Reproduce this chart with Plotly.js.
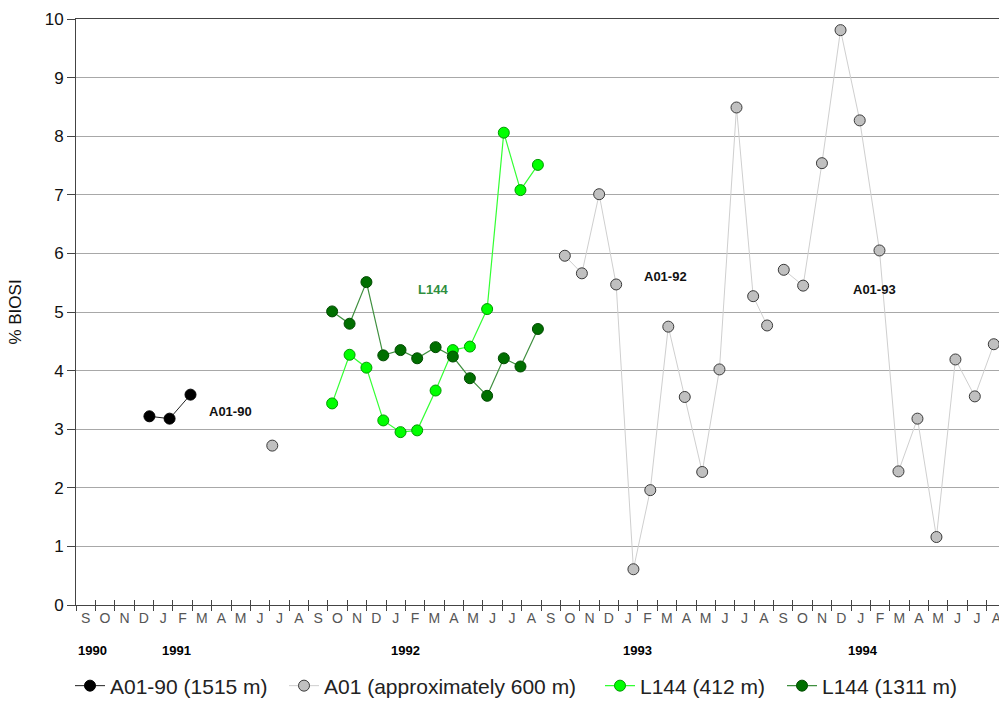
<!DOCTYPE html>
<html>
<head>
<meta charset="utf-8">
<script src="https://cdn.plot.ly/plotly-3.0.1.min.js"></script>
<style>
html,body{margin:0;padding:0;overflow:hidden;background:#fff;width:999px;height:702px}
#chart{width:1010px;height:702px}
</style>
</head>
<body>
<div id="chart"></div>
<script>
// Month index: 0 = September 1990 ... 47 = August 1994
const monthLetters = ['S','O','N','D','J','F','M','A','M','J','J','A',
                      'S','O','N','D','J','F','M','A','M','J','J','A',
                      'S','O','N','D','J','F','M','A','M','J','J','A',
                      'S','O','N','D','J','F','M','A','M','J','J','A'];
const yearLabels = ['1990','1991','1992','1993','1994'];
const seriesLabels = ['A01-90','L144','A01-92','A01-93'];
const legendNames = ['A01-90 (1515 m)','A01 (approximately 600 m)','L144 (412 m)','L144 (1311 m)'];

// A01-90 (1515 m)
const a0190X = [3.29, 4.33, 5.41];
const a0190Y = [3.22, 3.18, 3.59];

// A01 (approximately 600 m) - three separate deployments
const a01SingleX = [9.63];
const a01SingleY = [2.72];
const a0192X = [24.73, 25.61, 26.50, 27.38, 28.27, 29.14, 30.07, 30.92, 31.82, 32.71, 33.59, 34.45, 35.17];
const a0192Y = [5.96, 5.66, 7.01, 5.47, 0.61, 1.96, 4.75, 3.55, 2.27, 4.02, 8.49, 5.27, 4.77];
const a0193X = [36.03, 37.03, 38.00, 38.96, 39.95, 40.97, 41.95, 42.93, 43.91, 44.89, 45.89, 46.87];
const a0193Y = [5.72, 5.45, 7.54, 9.81, 8.27, 6.05, 2.28, 3.18, 1.16, 4.19, 3.56, 4.45];

// L144
const l144X = [12.72, 13.62, 14.49, 15.36, 16.25, 17.11, 18.06, 18.95, 19.83, 20.72, 21.58, 22.44, 23.34];
const l144_412Y = [3.44, 4.27, 4.05, 3.15, 2.95, 2.98, 3.66, 4.35, 4.41, 5.05, 8.06, 7.08, 7.51];
const l144_1311Y = [5.01, 4.80, 5.51, 4.26, 4.35, 4.21, 4.40, 4.24, 3.87, 3.57, 4.21, 4.07, 4.71];

// ---- build traces ----
const FONT = 'Arial, "Liberation Sans", sans-serif';
const greyX = a01SingleX.concat([null], a0192X, [null], a0193X);
const greyY = a01SingleY.concat([null], a0192Y, [null], a0193Y);

const traces = [
  {x:a0190X, y:a0190Y, name:legendNames[0], mode:'lines+markers', legend:'legend',
   line:{color:'#222', width:1}, marker:{size:11, color:'#000', line:{color:'#000', width:1}}},
  {x:greyX, y:greyY, name:legendNames[1], mode:'lines+markers', connectgaps:false, legend:'legend2',
   line:{color:'#cfcfcf', width:1}, marker:{size:11, color:'#c0c0c0', line:{color:'#3a3a3a', width:1}}},
  {x:l144X, y:l144_412Y, name:legendNames[2], mode:'lines+markers', legend:'legend3',
   line:{color:'#33ff33', width:1.2}, marker:{size:11, color:'#00ff00', line:{color:'#009a00', width:1}}},
  {x:l144X, y:l144_1311Y, name:legendNames[3], mode:'lines+markers', legend:'legend4',
   line:{color:'#3f8f3f', width:1.2}, marker:{size:11, color:'#006f00', line:{color:'#004a00', width:1}}},
  {x:[], y:[], xaxis:'x2', yaxis:'y', showlegend:false, hoverinfo:'skip', mode:'markers'}
];

const centers = monthLetters.map((_, i) => i);
const boundaries = monthLetters.map((_, i) => i - 0.5).concat([monthLetters.length - 0.5]);

const yearPos = [0.35, 4.7, 16.5, 28.5, 40.1];
const labelPos = [[7.48, 3.31, '#111'], [17.9, 5.39, '#2f8f3f'], [29.9, 5.6, '#111'], [40.7, 5.39, '#111']];

const annotations = [];
yearLabels.forEach((t, i) => annotations.push({
  text:'<b>' + t + '</b>', x:yearPos[i], xref:'x', y:-0.077, yref:'paper',
  showarrow:false, xanchor:'center', yanchor:'middle', font:{family:FONT, size:13, color:'#000'}
}));
seriesLabels.forEach((t, i) => annotations.push({
  text:'<b>' + t + '</b>', x:labelPos[i][0], y:labelPos[i][1], xref:'x', yref:'y',
  showarrow:false, xanchor:'center', yanchor:'middle', font:{family:FONT, size:13, color:labelPos[i][2]}
}));

function leg(xpx){
  return {orientation:'h', xref:'container', yref:'container', x:xpx/1010, y:1 - 686/702,
          xanchor:'left', yanchor:'middle', bgcolor:'rgba(0,0,0,0)',
          font:{family:FONT, size:21, color:'#222'}};
}

const layout = {
  width:1010, height:702,
  margin:{l:76, r:4, t:19, b:97},
  paper_bgcolor:'#fff', plot_bgcolor:'#fff',
  font:{family:FONT},
  showlegend:true,
  legend:leg(70), legend2:leg(284), legend3:leg(600), legend4:leg(782),
  xaxis:{range:[-0.5, 47.5], tickmode:'array', tickvals:centers, ticktext:monthLetters,
         ticks:'', showgrid:false, zeroline:false, showline:true, linecolor:'#444', linewidth:1,
         mirror:true, tickfont:{family:FONT, size:14, color:'#555'},
         minor:{tickmode:'array', tickvals:boundaries, ticks:'outside', ticklen:5, tickcolor:'#444', tickwidth:1, showgrid:false}},
  xaxis2:{range:[-0.5, 47.5], overlaying:'x', anchor:'y', side:'bottom', showline:false, showgrid:false,
          zeroline:false, showticklabels:false, tickmode:'array', tickvals:boundaries,
          ticks:'inside', ticklen:5, tickcolor:'#444', tickwidth:1},
  yaxis:{range:[0, 10], dtick:1, tick0:0, showgrid:true, gridcolor:'#a8a8a8', gridwidth:1,
         zeroline:false, showline:true, linecolor:'#444', linewidth:1,
         ticks:'outside', ticklen:8, tickcolor:'#444',
         tickfont:{family:FONT, size:17, color:'#111'},
         title:{text:'% BIOSI', font:{family:FONT, size:17, color:'#111'}, standoff:18}},
  annotations:annotations
};

Plotly.newPlot('chart', traces, layout, {staticPlot:true, displayModeBar:false});
</script>
</body>
</html>
